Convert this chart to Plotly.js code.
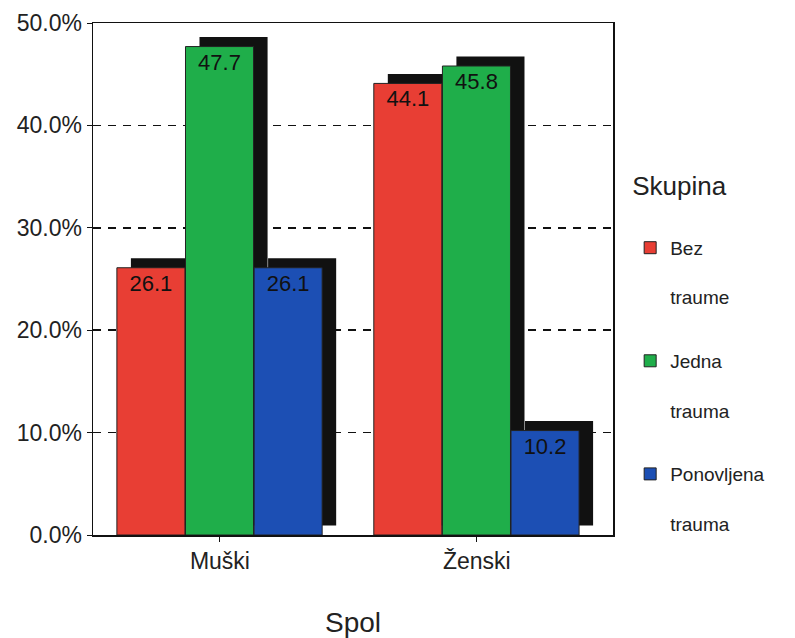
<!DOCTYPE html>
<html>
<head>
<meta charset="utf-8">
<script src="https://cdn.plot.ly/plotly-3.0.1.min.js"></script>
<style>html,body{margin:0;padding:0;background:#fff;}#chart{width:795px;height:638px;}</style>
</head>
<body>
<div id="chart"></div>
<script>
const categories = ['Muški', 'Ženski'];
const seriesNames = ['Bez<br> <br>traume', 'Jedna<br> <br>trauma', 'Ponovljena<br> <br>trauma'];
const bezTraume = [26.1, 44.1];
const jednaTrauma = [47.7, 45.8];
const ponovljenaTrauma = [26.1, 10.2];
const yTickVals = [0, 10, 20, 30, 40, 50];
const yTickText = ['0.0%', '10.0%', '20.0%', '30.0%', '40.0%', '50.0%'];

const values = [bezTraume, jednaTrauma, ponovljenaTrauma];
const colors = ['#e83e34', '#1fae4a', '#1c4fb4'];
const barWidth = 0.265;
const offsets = [-0.401, -0.134, 0.133];
const shadowDx = 0.0545;
const shadowDy = 0.93;
const FONT = '"Liberation Sans", Arial, sans-serif';

const traces = [];
values.forEach((v, i) => {
  traces.push({
    type: 'bar', x: categories, y: v, base: shadowDy,
    width: barWidth, offset: offsets[i] + shadowDx,
    marker: {color: '#111111', line: {width: 0}},
    showlegend: false, hoverinfo: 'skip'
  });
});
values.forEach((v, i) => {
  traces.push({
    type: 'bar', name: seriesNames[i], x: categories, y: v,
    width: barWidth, offset: offsets[i],
    legendgroup: 'g' + i,
    marker: {color: colors[i], line: {width: 1, color: '#222'}},
    texttemplate: '%{y:.1f}', textposition: 'inside', insidetextanchor: 'end',
    textangle: 0, constraintext: 'none',
    textfont: {family: FONT, size: 22, color: '#111'}
  });
});

const layout = {
  width: 795, height: 638,
  margin: {l: 93, r: 182, t: 23, b: 103},
  paper_bgcolor: '#ffffff', plot_bgcolor: '#ffffff',
  barmode: 'overlay',
  font: {family: FONT, color: '#222'},
  xaxis: {
    type: 'category', range: [-0.494, 1.53],
    showline: true, mirror: true, linecolor: '#111', linewidth: 1.5,
    ticks: 'outside', ticklen: 5, tickcolor: '#111',
    tickfont: {family: FONT, size: 23, color: '#222'},
    title: {text: 'Spol', font: {family: FONT, size: 28, color: '#222'}, standoff: 42},
    showgrid: false, zeroline: false
  },
  yaxis: {
    range: [0, 50], tickmode: 'array', tickvals: yTickVals, ticktext: yTickText,
    showline: true, mirror: true, linecolor: '#111', linewidth: 1.5,
    ticks: 'outside', ticklen: 5, tickcolor: '#111',
    tickfont: {family: FONT, size: 23, color: '#222'},
    showgrid: true, gridcolor: '#111', gridwidth: 1.5, griddash: '8px,7px',
    zeroline: false
  },
  legend: {
    x: 1.033, xanchor: 'left', y: 0.73, yanchor: 'top',
    valign: 'top', traceorder: 'grouped', tracegroupgap: 36,
    font: {family: FONT, size: 19, color: '#222'},
    title: {text: 'Skupina<br> ', font: {family: FONT, size: 26, color: '#222'}},
    bgcolor: 'rgba(0,0,0,0)'
  }
};

Plotly.newPlot('chart', traces, layout, {displayModeBar: false, staticPlot: true});
</script>
</body>
</html>
